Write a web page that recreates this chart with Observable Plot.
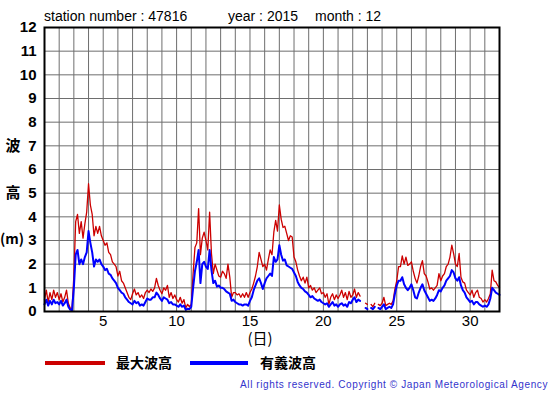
<!DOCTYPE html>
<html><head><meta charset="utf-8">
<script src="https://cdn.jsdelivr.net/npm/d3@7"></script>
<script src="https://cdn.jsdelivr.net/npm/@observablehq/plot@0.6"></script>
<style>
body{margin:0;background:#fff;}
#chart{width:555px;height:395px;}
</style>
</head><body><div id="chart"></div>
<script>
// Time axis: day of month, 8 readings per day (every 3 hours), from day 1 00h to day 32 00h
const firstDay = 1;
const readingsPerDay = 8;
// 最大波高 (maximum wave height, m)
const maxWave = [
 0.5,0.9,0.4,0.8,0.5,0.9,0.6,0.8,
 0.5,0.75,0.4,0.6,0.9,0.35,0.15,0.1,
 1.5,3.8,4.1,3.3,3.8,3.1,3.7,4.2,
 5.4,4.5,4.1,3.2,3.6,3.3,3.6,3.2,
 3.0,2.8,2.9,2.5,2.4,2.1,2.0,1.9,
 1.5,1.7,1.3,1.2,1.0,0.8,0.6,0.5,
 0.75,0.95,0.7,0.8,0.6,0.7,0.55,0.8,
 0.9,0.8,0.95,0.85,1.0,1.4,1.1,0.9,
 0.75,1.0,0.9,1.1,0.6,0.8,0.55,0.7,
 0.5,0.4,0.6,0.35,0.5,0.15,0.3,0.2,
 0.3,1.6,2.7,2.9,4.35,2.4,3.1,3.35,
 3.0,2.6,4.2,2.45,1.6,2.0,1.75,1.5,
 1.45,1.7,1.6,1.4,2.0,1.45,0.6,0.8,
 0.8,0.7,0.75,0.6,0.75,0.6,0.8,0.6,
 0.8,0.95,1.2,1.5,1.9,2.5,2.2,1.9,
 2.0,1.75,2.2,2.6,2.4,3.35,3.85,3.4,
 4.5,3.9,3.55,3.6,3.3,3.0,3.2,3.15,
 2.3,2.1,1.75,1.5,1.3,1.45,1.2,1.45,
 1.0,1.1,0.9,1.0,0.8,0.9,1.0,0.75,
 0.8,0.6,0.75,0.3,0.6,0.75,0.5,0.7,
 0.55,0.7,0.9,0.6,0.8,0.5,0.85,0.6,
 0.7,0.95,0.6,0.8,0.65,null,null,0.35,
 0.3,null,0.3,0.2,0.35,null,0.3,0.25,
 0.35,0.6,0.25,0.3,0.35,0.3,0.45,0.95,
 1.3,1.9,1.9,2.35,2.0,2.3,1.95,2.0,
 2.1,1.7,1.4,1.2,1.5,1.9,2.15,1.6,
 1.5,1.25,0.95,1.0,0.9,1.0,1.1,1.6,
 1.3,1.5,1.6,1.9,2.0,2.3,2.8,2.45,
 2.0,1.9,2.45,1.45,1.25,1.2,0.9,0.8,
 0.7,0.9,0.6,0.8,0.9,0.6,0.55,0.4,
 0.5,0.4,0.55,0.75,1.75,1.3,1.25,1.1,
 1.0
];
// 有義波高 (significant wave height, m)
const sigWave = [
 0.3,0.5,0.25,0.45,0.3,0.5,0.35,0.4,
 0.3,0.45,0.25,0.35,0.5,0.2,0.08,0.05,
 1.0,2.4,2.6,2.0,2.2,2.0,2.3,2.5,
 3.4,2.9,2.5,1.9,2.2,2.1,2.2,2.0,
 1.9,1.75,1.8,1.6,1.55,1.4,1.3,1.2,
 1.0,0.9,0.8,0.75,0.6,0.5,0.4,0.35,
 0.3,0.45,0.35,0.4,0.25,0.3,0.25,0.4,
 0.55,0.5,0.5,0.6,0.6,0.8,0.7,0.55,
 0.45,0.6,0.55,0.5,0.35,0.4,0.3,0.3,
 0.25,0.2,0.3,0.2,0.25,0.07,0.12,0.1,
 0.2,1.0,1.7,2.1,2.6,1.2,2.0,2.1,
 1.9,1.8,2.6,1.75,1.2,1.3,1.05,1.1,
 1.0,1.0,0.95,0.85,0.8,0.75,0.45,0.5,
 0.4,0.35,0.3,0.3,0.25,0.3,0.3,0.25,
 0.45,0.6,0.9,1.1,1.3,1.4,1.2,0.95,
 1.2,1.4,1.5,1.6,1.5,2.3,2.1,2.2,
 2.8,2.4,2.15,2.2,1.95,1.9,1.85,1.8,
 1.65,1.5,1.25,1.1,1.0,0.95,0.85,0.8,
 0.7,0.6,0.65,0.55,0.5,0.45,0.5,0.4,
 0.35,0.3,0.35,0.2,0.3,0.4,0.25,0.3,
 0.2,0.3,0.35,0.25,0.3,0.2,0.4,0.35,
 0.5,0.6,0.4,0.5,0.45,null,null,0.15,
 0.1,null,0.15,0.1,0.2,null,0.15,0.1,
 0.2,0.3,0.1,0.15,0.2,0.15,0.3,0.75,
 1.1,1.3,1.3,1.45,1.15,1.0,0.9,1.0,
 1.15,0.9,0.6,0.55,0.8,1.0,1.15,0.9,
 0.75,0.6,0.45,0.5,0.45,0.55,0.7,0.9,
 0.85,1.0,1.1,1.3,1.4,1.5,1.75,1.65,
 1.4,1.3,1.45,1.1,0.9,0.8,0.6,0.5,
 0.4,0.45,0.3,0.4,0.4,0.3,0.25,0.2,
 0.25,0.2,0.3,0.55,1.0,0.9,0.8,0.75,
 0.7
];
const xTicks = [5, 10, 15, 20, 25, 30];
const yTicks = [0,1,2,3,4,5,6,7,8,9,10,11,12];
const gridDays = d3.range(1, 33);
const seriesNames = ["最大波高", "有義波高"];
const seriesColors = ["#cc0000", "#0000ff"];
const titleParts = ["station number : 47816", "year : 2015", "month : 12"];
const yLabelChars = ["波", "高", "(m)"];
const xLabel = "(日)";
const copyright = "All rights reserved. Copyright © Japan Meteorological Agency";

const rows = maxWave.map((v, i) => ({t: firstDay + i / readingsPerDay, max: v, sig: sigWave[i]}));

const latin = "'Liberation Sans', Arial, Helvetica, sans-serif";
const cjk = "'Noto Sans CJK JP', 'Liberation Sans', sans-serif";

const plot = Plot.plot({
  width: 555, height: 395,
  marginLeft: 44, marginRight: 56, marginTop: 27, marginBottom: 84,
  style: {background: "#fff", fontFamily: latin, color: "#000", overflow: "visible"},
  x: {domain: [1, 32]},
  y: {domain: [0, 12]},
  marks: [
    Plot.ruleX(gridDays, {stroke: "#6e6e6e", strokeWidth: 1}),
    Plot.ruleY(yTicks, {stroke: "#6e6e6e", strokeWidth: 1}),
    Plot.lineY(rows, {x: "t", y: "max", stroke: seriesColors[0], strokeWidth: 1.3}),
    Plot.lineY(rows, {x: "t", y: "sig", stroke: seriesColors[1], strokeWidth: 2}),
    Plot.frame({stroke: "#000", strokeWidth: 2}),
    Plot.axisX(xTicks, {tickSize: 0, tickPadding: 4, fontSize: 15, label: null, fill: "#000"}),
    Plot.axisY(yTicks, {tickSize: 0, tickPadding: 8, fontSize: 15, fontWeight: "bold", label: null, fill: "#000"})
  ]
});
document.getElementById("chart").appendChild(plot);

const svg = d3.select(plot);
const title = svg.append("g").attr("font-family", latin).attr("font-size", 14)
  .attr("fill", "#000").attr("text-anchor", "start");
[[44, titleParts[0]], [228, titleParts[1]], [315, titleParts[2]]].forEach(([x, s]) =>
  title.append("text").attr("x", x).attr("y", 21).text(s));

const ylab = svg.append("g").attr("font-family", cjk).attr("font-weight", "bold")
  .attr("text-anchor", "middle").attr("fill", "#000");
[[13, 151, 15, yLabelChars[0]], [13, 198, 15, yLabelChars[1]], [12, 244, 14, yLabelChars[2]]].forEach(([x, y, fs, s]) =>
  ylab.append("text").attr("x", x).attr("y", y).attr("font-size", fs).text(s));

svg.append("text").attr("x", 260).attr("y", 344).attr("text-anchor", "middle")
  .attr("font-family", cjk).attr("font-size", 15).attr("fill", "#000").text(xLabel);

const leg = svg.append("g").attr("text-anchor", "start");
[[45, 105, 116], [190, 248, 260]].forEach(([x1, x2, tx], i) => {
  leg.append("line").attr("x1", x1).attr("x2", x2).attr("y1", 363).attr("y2", 363)
    .attr("stroke", seriesColors[i]).attr("stroke-width", 4);
  leg.append("text").attr("x", tx).attr("y", 368).attr("font-family", cjk).attr("font-size", 14)
    .attr("font-weight", "bold").attr("fill", "#000").text(seriesNames[i]);
});

svg.append("text").attr("x", 548).attr("y", 388).attr("text-anchor", "end")
  .attr("font-family", latin).attr("font-size", 10).attr("letter-spacing", 0.6)
  .attr("fill", "#3333cc").text(copyright);
</script>
</body></html>
